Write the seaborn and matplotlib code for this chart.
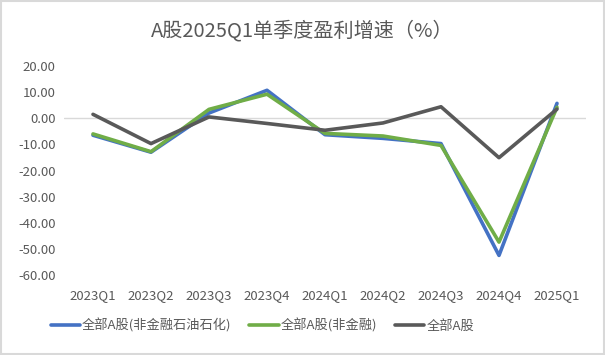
import pandas as pd
import seaborn as sns
import matplotlib.pyplot as plt
from matplotlib.patches import Rectangle

# quarters and growth rates (%)
quarters = ['2023Q1', '2023Q2', '2023Q3', '2023Q4', '2024Q1',
            '2024Q2', '2024Q3', '2024Q4', '2025Q1']
ex_fin_petro = [-6.5, -13.0, 2.0, 10.7, -6.3, -7.7, -9.7, -52.5, 5.7]
ex_fin = [-6.0, -12.8, 3.4, 9.2, -5.8, -6.8, -10.4, -47.4, 4.2]
all_a = [1.5, -9.7, 0.5, -2.0, -4.6, -1.8, 4.4, -15.1, 3.5]
series = ['全部A股(非金融石油石化)', '全部A股(非金融)', '全部A股']
colors = ['#4472C4', '#70AD47', '#595959']

df = pd.DataFrame({
    'quarter': quarters * 3,
    'value': ex_fin_petro + ex_fin + all_a,
    'series': [series[0]] * 9 + [series[1]] * 9 + [series[2]] * 9,
})

sns.set_style('white')
plt.rcParams['font.family'] = ['Noto Sans CJK SC', 'DejaVu Sans']

fig = plt.figure(figsize=(6.05, 3.55), dpi=100)
ax = fig.add_axes([64 / 605, 1 - 275 / 355, (586 - 64) / 605, (275 - 66) / 355])

sns.lineplot(data=df, x='quarter', y='value', hue='series', hue_order=series,
             palette=colors, linewidth=2.6, sort=False, ax=ax)

ax.axhline(0, color='#d9d9d9', linewidth=1, zorder=0)
ax.set_xlim(-0.5, len(quarters) - 0.5)
ax.set_ylim(-60, 20)
ax.set_yticks(range(-60, 21, 10))
ax.set_yticklabels([f'{v:.2f}' for v in range(-60, 21, 10)])
ax.set_xlabel('')
ax.set_ylabel('')
for s in ax.spines.values():
    s.set_visible(False)
ax.tick_params(axis='both', length=0, labelsize=9.5, colors='#595959', pad=6)
ax.tick_params(axis='x', pad=10)

ax.legend(loc='upper center', bbox_to_anchor=(0.38, -0.15), ncol=3,
          frameon=False, fontsize=9.5, handlelength=2.2, columnspacing=1.4,
          handletextpad=0.15, labelcolor='#595959')

fig.text(0.5, 1 - 31 / 355, 'A股2025Q1单季度盈利增速（%）', ha='center', va='center',
         fontsize=14.5, color='#595959')
fig.patches.append(Rectangle((0.002, 0.003), 0.996, 0.994, transform=fig.transFigure,
                             fill=False, edgecolor='#d9d9d9', linewidth=1.5))

fig.savefig('out.png', dpi=100)
